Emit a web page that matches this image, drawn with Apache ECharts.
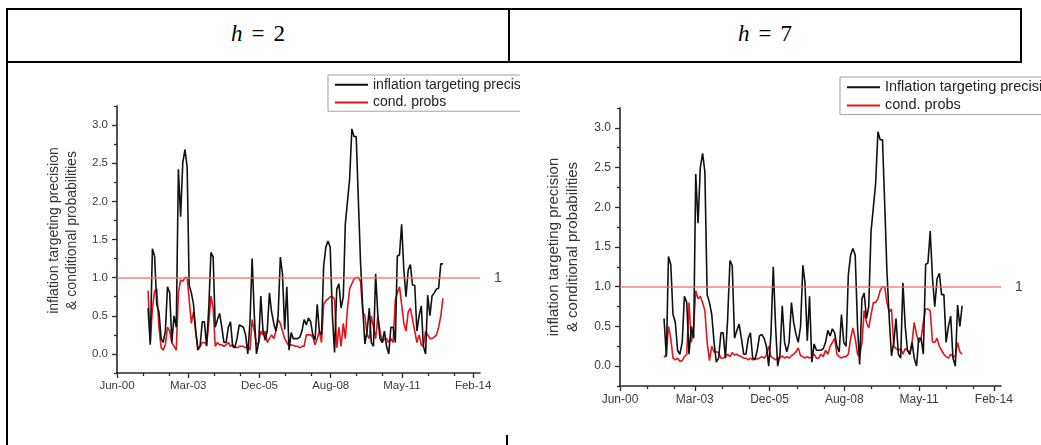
<!DOCTYPE html>
<html><head><meta charset="utf-8">
<script src="https://cdn.jsdelivr.net/npm/echarts@6/dist/echarts.min.js"></script>
<style>
body{margin:0;width:1041px;height:445px;background:#fff;position:relative;overflow:hidden;font-family:"Liberation Sans",Arial,sans-serif}
.ln{position:absolute;background:#000}
.hd{position:absolute;top:9px;height:53px;line-height:50px;text-align:center;font-family:"Liberation Serif","Times New Roman",serif;font-size:23px;color:#000}
.hd span{display:inline-block;width:9px}
#c1{position:absolute;left:9px;top:64px;width:511px;height:371px;background:#fff}
#c2{position:absolute;left:520px;top:64px;width:521px;height:381px;background:#fff}
</style></head><body>
<div class="ln" style="left:6px;top:8px;width:1016px;height:2px"></div>
<div class="ln" style="left:6px;top:61px;width:1016px;height:2px"></div>
<div class="ln" style="left:6px;top:8px;width:2px;height:437px"></div>
<div class="ln" style="left:508px;top:8px;width:2px;height:54px"></div>
<div class="ln" style="left:1020px;top:8px;width:2px;height:54px"></div>
<div class="ln" style="left:506px;top:430px;width:2px;height:15px"></div>
<div class="hd" style="left:8px;width:500px"><i>h</i><span></span>=<span></span>2</div>
<div class="hd" style="left:510px;width:510px"><i>h</i><span></span>=<span></span>7</div>
<div id="c1"></div>
<div id="c2"></div>
<script>
// ---- data ----
const seriesNamesH2 = ['inflation targeting precision', 'cond. probs'];
const seriesNamesH7 = ['Inflation targeting precision', 'cond. probs'];
const startH2 = [2001, 7];   // Aug 2001 (year, monthIndex)
const startH7 = [2002, 0];   // Jan 2002
const xTickLabels = ['Jun-00', 'Mar-03', 'Dec-05', 'Aug-08', 'May-11', 'Feb-14'];
const yTickLabels = ['0.0', '0.5', '1.0', '1.5', '2.0', '2.5', '3.0'];
const refLevel = 1;
const refLabel = '1';

// monthly inflation targeting precision (same series in both panels; h=2 panel has 5 more months)
const precision = [
0.60,0.12,1.38,1.28,0.65,0.55,0.20,0.15,0.30,0.88,
0.80,0.15,0.50,0.35,2.42,1.80,2.50,2.68,2.45,0.90,
0.80,0.65,0.30,0.05,0.10,0.42,0.42,0.10,0.60,1.33,
1.27,0.35,0.45,0.53,0.35,0.15,0.15,0.35,0.42,0.10,
0.08,0.20,0.38,0.40,0.35,0.25,0.00,0.40,1.25,0.50,
0.00,0.15,0.76,0.30,0.18,0.30,0.80,0.55,0.40,0.30,
0.50,1.27,1.05,0.32,0.88,0.05,0.28,0.20,0.20,0.20,
0.22,0.30,0.45,0.38,0.47,0.42,0.25,0.18,0.65,0.30,
0.25,1.15,1.40,1.48,1.40,0.50,0.02,0.85,0.92,0.60,
0.75,1.70,2.00,2.30,2.95,2.85,2.85,2.00,1.20,0.60,
0.13,0.30,0.60,0.15,0.10,1.05,0.50,0.20,0.15,0.30,
0.10,0.00,0.35,0.35,0.15,1.28,1.30,1.70,1.10,0.75,
1.10,1.17,0.90,0.90,0.30,0.50,0.63,0.10,0.00,0.77,
0.50,0.76,0.80,0.85,0.86,1.18,1.18];

const probsH2 = [
0.83,0.15,0.60,0.82,0.85,0.35,0.08,0.05,0.12,0.35,
0.30,0.15,0.10,0.05,0.80,0.97,0.95,1.00,1.00,1.00,
0.40,0.55,0.30,0.08,0.10,0.15,0.15,0.12,0.40,0.76,
0.60,0.10,0.15,0.12,0.12,0.10,0.12,0.15,0.10,0.12,
0.10,0.08,0.10,0.12,0.10,0.08,0.10,0.05,0.45,0.30,
0.12,0.15,0.30,0.25,0.30,0.15,0.20,0.25,0.20,0.30,
0.45,0.40,0.30,0.20,0.15,0.10,0.12,0.12,0.10,0.10,
0.08,0.10,0.10,0.25,0.25,0.25,0.22,0.12,0.20,0.30,
0.15,0.65,0.70,0.72,0.75,0.75,0.72,0.08,0.35,0.10,
0.40,0.20,0.60,0.85,0.92,0.98,1.00,1.00,0.95,0.55,
0.50,0.25,0.20,0.50,0.35,0.20,0.50,0.30,0.15,0.20,
0.20,0.15,0.20,0.15,0.70,0.80,0.88,0.65,0.40,0.30,
0.55,0.60,0.45,0.30,0.15,0.25,0.12,0.10,0.30,0.25,
0.20,0.20,0.22,0.25,0.35,0.50,0.73];

const probsH7 = [
0.11,0.15,0.50,0.35,0.10,0.08,0.10,0.06,0.07,0.12,
0.15,0.80,0.30,0.50,0.95,0.85,0.88,0.80,0.70,0.30,
0.07,0.25,0.18,0.18,0.17,0.10,0.10,0.12,0.15,0.12,
0.17,0.14,0.15,0.13,0.12,0.10,0.10,0.08,0.10,0.08,
0.10,0.09,0.10,0.12,0.10,0.14,0.25,0.12,0.10,0.08,
0.10,0.10,0.13,0.10,0.12,0.10,0.13,0.15,0.18,0.23,
0.13,0.12,0.10,0.12,0.10,0.12,0.15,0.10,0.10,0.15,
0.12,0.20,0.15,0.25,0.30,0.35,0.15,0.12,0.10,0.12,
0.12,0.15,0.35,0.48,0.35,0.15,0.12,0.30,0.70,0.55,
0.48,0.65,0.80,0.80,0.85,0.95,1.00,1.00,0.80,0.68,
0.72,0.25,0.22,0.20,0.22,0.15,0.22,0.20,0.15,0.30,
0.55,0.40,0.30,0.35,0.55,0.72,0.72,0.70,0.30,0.30,
0.35,0.25,0.20,0.15,0.12,0.10,0.15,0.12,0.12,0.30,
0.18,0.15];

// ---- axis set-up ----
const DAY = 86400000;
const axisStart = Date.UTC(2000, 5, 10);
const axisEnd = Date.UTC(2014, 4, 24);
const xMajor = xTickLabels.map((_, k) => axisStart + k * 1000 * DAY);
const xMinor = [];
xMajor.forEach(v => { [365, 730].forEach(d => { if (v + d * DAY < axisEnd) xMinor.push(v + d * DAY); }); });
const yMajor = yTickLabels.map(s => parseFloat(s));
const yMinor = [-0.25, 0.25, 0.75, 1.25, 1.75, 2.25, 2.75, 3.25];

function toSeries(start, values) {
  return values.map((v, i) => [Date.UTC(start[0], start[1] + i, 20), v]);
}

const FONT = '"Liberation Sans", Arial, Helvetica, sans-serif';

function makeOption(c) {
  const axisColor = '#2a2a2a';
  return {
    animation: false,
    textStyle: { fontFamily: FONT },
    grid: { left: c.left, top: c.top, right: c.right, bottom: c.bottom },
    legend: {
      orient: 'vertical', left: c.legLeft, top: c.legTop,
      icon: 'rect', itemWidth: 33, itemHeight: 2, itemGap: 0,
      padding: [1, 6, 0, 7], borderColor: '#a0a0a0', borderWidth: 1, backgroundColor: '#fff',
      textStyle: { fontSize: c.legFont, lineHeight: c.legLine, color: '#222', fontFamily: FONT },
      data: c.names
    },
    xAxis: [{
      type: 'value', min: axisStart, max: axisEnd,
      axisLine: { onZero: false, lineStyle: { color: axisColor, width: 1.6 } },
      axisTick: { customValues: xMajor, length: 5, lineStyle: { color: axisColor, width: 1.3 } },
      axisLabel: {
        customValues: xMajor, fontSize: c.tickFont, color: '#3a3a3a', margin: c.xMargin, fontFamily: FONT,
        formatter: v => xTickLabels[Math.round((v - axisStart) / (1000 * DAY))] || ''
      },
      splitLine: { show: false }
    }, {
      type: 'value', min: axisStart, max: axisEnd, position: 'bottom',
      axisLine: { show: false, onZero: false },
      axisTick: { customValues: xMinor, length: 3, lineStyle: { color: axisColor, width: 1.3 } },
      axisLabel: { show: false }, splitLine: { show: false }
    }],
    yAxis: [{
      type: 'value', min: -0.25, max: 3.25,
      name: 'inflation targeting precision\n& conditional probabilities',
      nameLocation: 'middle', nameGap: c.nameGap,
      nameTextStyle: { fontSize: c.nameFont, lineHeight: c.nameLine, color: '#333', fontFamily: FONT, padding: c.namePad },
      axisLine: { show: true, onZero: false, lineStyle: { color: axisColor, width: 1.6 } },
      axisTick: { show: true, customValues: yMajor, length: 5, lineStyle: { color: axisColor, width: 1.3 } },
      axisLabel: {
        customValues: yMajor, fontSize: c.tickFont, color: '#3a3a3a', margin: 9, fontFamily: FONT,
        formatter: v => yTickLabels[Math.round(v * 2)] || ''
      },
      splitLine: { show: false }
    }, {
      type: 'value', min: -0.25, max: 3.25, position: 'left',
      axisLine: { show: false, onZero: false },
      axisTick: { show: true, customValues: yMinor, length: 3, lineStyle: { color: axisColor, width: 1.3 } },
      axisLabel: { show: false }, splitLine: { show: false }
    }],
    series: [{
      name: c.names[0], type: 'line', symbol: 'none', data: c.black,
      color: '#111', lineStyle: { color: '#111', width: 1.6 }, z: 3
    }, {
      name: c.names[1], type: 'line', symbol: 'none', data: c.red,
      color: '#e3151c', lineStyle: { color: '#e3151c', width: 1.6 }, z: 2,
      markLine: {
        silent: true, symbol: ['none', 'none'],
        emphasis: { disabled: true },
        lineStyle: { color: '#f26d6d', width: 1.5, type: 'solid', opacity: 0.85 },
        label: { position: 'end', formatter: refLabel, color: '#222', fontSize: 14, distance: 14, fontFamily: FONT },
        data: [{ yAxis: refLevel }]
      }
    }]
  };
}

const chart1 = echarts.init(document.getElementById('c1'));
chart1.setOption(makeOption({
  left: 108, top: 42, right: 40, bottom: 62,
  legLeft: 319, legTop: 11, legFont: 14, legLine: 17.6,
  tickFont: 11.5, xMargin: 7, nameGap: 36, nameFont: 14, nameLine: 18, namePad: [0, 0, 0, 18],
  names: seriesNamesH2,
  black: toSeries(startH2, precision),
  red: toSeries(startH2, probsH2)
}));

const chart2 = echarts.init(document.getElementById('c2'));
chart2.setOption(makeOption({
  left: 100, top: 44, right: 40, bottom: 59,
  legLeft: 320, legTop: 13, legFont: 14.5, legLine: 18.3,
  tickFont: 12, xMargin: 8, nameGap: 38, nameFont: 15, nameLine: 18.7, namePad: [0, 0, 0, 0],
  names: seriesNamesH7,
  black: toSeries(startH7, precision.slice(0, 132)),
  red: toSeries(startH7, probsH7)
}));
</script>
</body></html>
